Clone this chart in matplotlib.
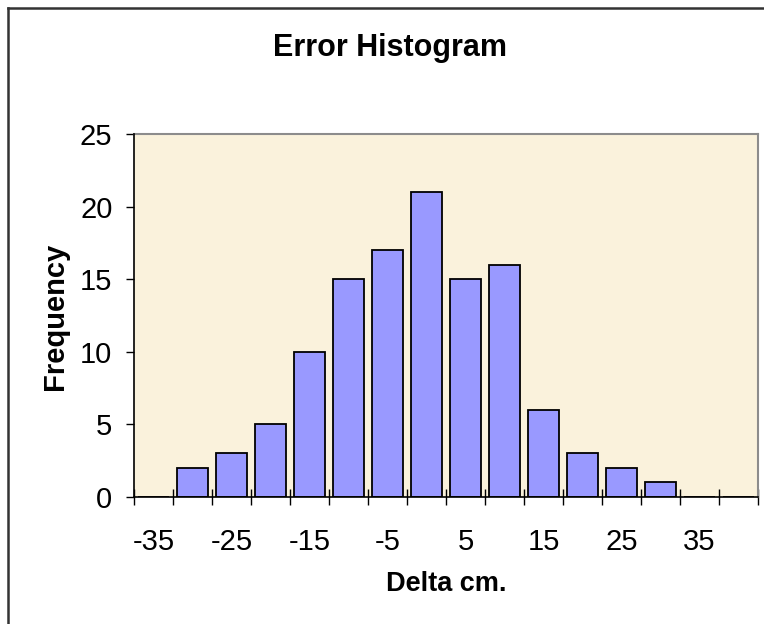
import matplotlib
matplotlib.use("Agg")
import matplotlib.pyplot as plt
from matplotlib.lines import Line2D
import numpy as np

# ---- data ----
categories = [-35, -30, -25, -20, -15, -10, -5, 0, 5, 10, 15, 20, 25, 30, 35, 40]
frequency = [0, 2, 3, 5, 10, 15, 17, 21, 15, 16, 6, 3, 2, 1, 0, 0]
y_ticks = [0, 5, 10, 15, 20, 25]
title = "Error Histogram"
x_label = "Delta cm."
y_label = "Frequency"

plt.rcParams['font.family'] = ['Liberation Sans', 'DejaVu Sans']

W, H = 764, 624
fig = plt.figure(figsize=(W / 100, H / 100), dpi=100)
fig.patch.set_facecolor('white')

# plot area in pixels
L, R, T, B = 134, 758, 134, 497
ax = fig.add_axes([L / W, 1 - B / H, (R - L) / W, (B - T) / H])
ax.set_facecolor('#FAF2DC')

idx = np.arange(len(categories))
ax.bar(idx, frequency, width=0.77, color='#9999FF', edgecolor='black',
       linewidth=1.3, zorder=3)

ax.set_xlim(-0.5, len(categories) - 0.5)
ax.set_ylim(0, 25)

# y axis
ax.set_yticks(y_ticks)
ax.set_yticklabels([str(v) for v in y_ticks])
ax.tick_params(axis='y', direction='out', length=5.5, width=1, pad=10,
               labelsize=21, colors='black')

# x axis: ticks between categories, labels every other category
ax.set_xticks(np.arange(-0.5, len(categories), 1.0))
ax.set_xticklabels([])
ax.tick_params(axis='x', which='major', direction='inout', length=12, width=1)
label_pos = idx[::2]
ax.set_xticks(label_pos, minor=True)
ax.set_xticklabels([str(categories[i]) for i in label_pos], minor=True)
ax.tick_params(axis='x', which='minor', length=0, pad=22, labelsize=21)

for s in ['top', 'right']:
    ax.spines[s].set_color('#8C8C8C')
    ax.spines[s].set_linewidth(1.5)
ax.spines['left'].set_color('black')
ax.spines['bottom'].set_color('black')
ax.spines['left'].set_linewidth(1.2)
ax.spines['bottom'].set_linewidth(1.2)
ax.spines['left'].set_zorder(4)
ax.spines['bottom'].set_zorder(4)

# texts
fig.text(390 / W, 1 - 48 / H, title, ha='center', va='center',
         fontsize=22, fontweight='bold')
fig.text(446 / W, 1 - 584 / H, x_label, ha='center', va='center',
         fontsize=19.5, fontweight='bold')
fig.text(55 / W, 1 - 316 / H, y_label, ha='center', va='center',
         fontsize=21, fontweight='bold', rotation=90)

# outer chart border (left and top visible)
fig.add_artist(Line2D([8 / W, 8 / W], [0, 1 - 7.5 / H], color='#333333',
                      linewidth=1.8, transform=fig.transFigure))
fig.add_artist(Line2D([8 / W, 1], [1 - 7.5 / H, 1 - 7.5 / H], color='#333333',
                      linewidth=1.8, transform=fig.transFigure))

fig.savefig('out.png', dpi=100, facecolor='white')
